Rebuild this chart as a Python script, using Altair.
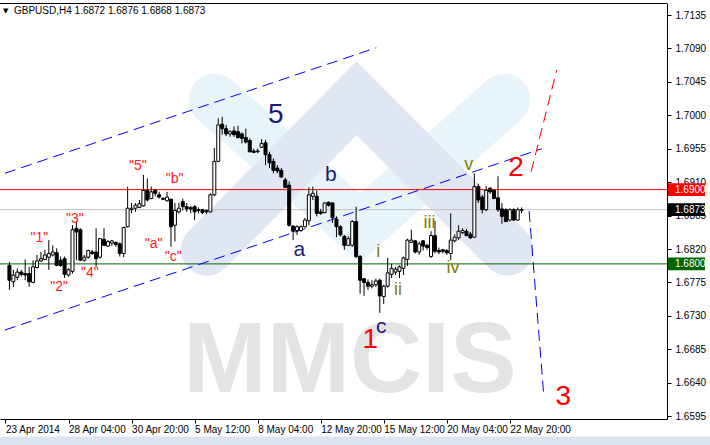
import altair as alt
import pandas as pd

# GBPUSD H4 bars (weekend gaps removed), oldest first
bar_open = [1.6798, 1.6776, 1.6782, 1.6789, 1.6787, 1.6787, 1.6775, 1.6795, 1.6804, 1.6806,
            1.6809, 1.6812, 1.6815, 1.6805, 1.6807, 1.6785, 1.6790, 1.6848, 1.6846, 1.6805,
            1.6809, 1.6816, 1.6816, 1.6809, 1.6833, 1.6824, 1.6828, 1.6829, 1.6827, 1.6814,
            1.6850, 1.6873, 1.6875, 1.6876, 1.6878, 1.6899, 1.6888, 1.6899, 1.6893, 1.6888,
            1.6885, 1.6887, 1.6852, 1.6870, 1.6884, 1.6877, 1.6876, 1.6877, 1.6873, 1.6873,
            1.6872, 1.6870, 1.6893, 1.6938, 1.6988, 1.6982, 1.6975, 1.6979, 1.6978, 1.6975,
            1.6970, 1.6966, 1.6952, 1.6951, 1.6957, 1.6963, 1.6947, 1.6938, 1.6929, 1.6926,
            1.6913, 1.6906, 1.6851, 1.6845, 1.6845, 1.6850, 1.6858, 1.6891, 1.6891, 1.6870,
            1.6869, 1.6883, 1.6882, 1.6860, 1.6850, 1.6837, 1.6825, 1.6825, 1.6857, 1.6810,
            1.6780, 1.6775, 1.6770, 1.6772, 1.6778, 1.6756, 1.6770, 1.6786, 1.6789, 1.6790,
            1.6794, 1.6806, 1.6829, 1.6831, 1.6816, 1.6831, 1.6825, 1.6810, 1.6838, 1.6818,
            1.6819, 1.6818, 1.6814, 1.6831, 1.6835, 1.6842, 1.6844, 1.6840, 1.6836, 1.6904,
            1.6890, 1.6873, 1.6902, 1.6899, 1.6889, 1.6874, 1.6873, 1.6859, 1.6873, 1.6859,
            1.6872]
bar_high = [1.6803, 1.6792, 1.6794, 1.6792, 1.6806, 1.6796, 1.6805, 1.6812, 1.6816, 1.6819,
            1.6832, 1.6825, 1.6821, 1.6810, 1.6810, 1.6794, 1.6852, 1.6857, 1.6848, 1.6812,
            1.6819, 1.6819, 1.6848, 1.6835, 1.6848, 1.6832, 1.6832, 1.6830, 1.6829, 1.6850,
            1.6904, 1.6882, 1.6882, 1.6886, 1.6920, 1.6915, 1.6904, 1.6900, 1.6897, 1.6890,
            1.6897, 1.6888, 1.6882, 1.6882, 1.6888, 1.6882, 1.6878, 1.6879, 1.6876, 1.6874,
            1.6873, 1.6895, 1.6956, 1.6996, 1.6998, 1.6987, 1.6980, 1.6985, 1.6986, 1.6977,
            1.6982, 1.6969, 1.6955, 1.6955, 1.6968, 1.6967, 1.6951, 1.6942, 1.6933, 1.6929,
            1.6916, 1.6911, 1.6852, 1.6852, 1.6852, 1.6862, 1.6903, 1.6904, 1.6899, 1.6874,
            1.6883, 1.6884, 1.6883, 1.6864, 1.6852, 1.6839, 1.6837, 1.6859, 1.6877, 1.6812,
            1.6781, 1.6779, 1.6778, 1.6780, 1.6780, 1.6772, 1.6808, 1.6800, 1.6796, 1.6798,
            1.6810, 1.6834, 1.6846, 1.6832, 1.6830, 1.6832, 1.6827, 1.6844, 1.6858, 1.6822,
            1.6820, 1.6820, 1.6868, 1.6840, 1.6852, 1.6848, 1.6847, 1.6843, 1.6922, 1.6908,
            1.6893, 1.6905, 1.6903, 1.6899, 1.6918, 1.6882, 1.6875, 1.6875, 1.6875, 1.6876,
            1.6876]
bar_low = [1.6765, 1.6769, 1.6778, 1.6783, 1.6778, 1.6769, 1.6774, 1.6794, 1.6803, 1.6805,
           1.6792, 1.6810, 1.6797, 1.6796, 1.6781, 1.6783, 1.6787, 1.6805, 1.6804, 1.6803,
           1.6807, 1.6812, 1.6796, 1.6807, 1.6824, 1.6823, 1.6824, 1.6823, 1.6810, 1.6809,
           1.6849, 1.6868, 1.6870, 1.6875, 1.6877, 1.6884, 1.6887, 1.6891, 1.6888, 1.6886,
           1.6884, 1.6823, 1.6830, 1.6868, 1.6872, 1.6870, 1.6868, 1.6859, 1.6868, 1.6867,
           1.6867, 1.6869, 1.6891, 1.6937, 1.6974, 1.6972, 1.6971, 1.6971, 1.6969, 1.6962,
           1.6962, 1.6950, 1.6949, 1.6949, 1.6956, 1.6933, 1.6929, 1.6922, 1.6922, 1.6916,
           1.6902, 1.6850, 1.6832, 1.6839, 1.6843, 1.6849, 1.6852, 1.6886, 1.6864, 1.6866,
           1.6868, 1.6877, 1.6855, 1.6836, 1.6837, 1.6819, 1.6824, 1.6823, 1.6808, 1.6760,
           1.6757, 1.6765, 1.6767, 1.6769, 1.6734, 1.6746, 1.6768, 1.6781, 1.6785, 1.6781,
           1.6785, 1.6797, 1.6828, 1.6814, 1.6812, 1.6818, 1.6819, 1.6808, 1.6814, 1.6813,
           1.6814, 1.6812, 1.6805, 1.6829, 1.6832, 1.6840, 1.6838, 1.6834, 1.6835, 1.6882,
           1.6868, 1.6871, 1.6894, 1.6887, 1.6870, 1.6854, 1.6857, 1.6857, 1.6858, 1.6858,
           1.6868]
bar_close = [1.6778, 1.6785, 1.6789, 1.6786, 1.6785, 1.6776, 1.6796, 1.6804, 1.6807, 1.6812,
             1.6814, 1.6816, 1.6798, 1.6798, 1.6786, 1.6792, 1.6846, 1.6843, 1.6805, 1.6809,
             1.6818, 1.6814, 1.6807, 1.6834, 1.6825, 1.6830, 1.6831, 1.6826, 1.6814, 1.6849,
             1.6875, 1.6875, 1.6879, 1.6881, 1.6899, 1.6886, 1.6897, 1.6895, 1.6890, 1.6887,
             1.6890, 1.6850, 1.6872, 1.6875, 1.6877, 1.6874, 1.6874, 1.6870, 1.6872, 1.6869,
             1.6870, 1.6893, 1.6938, 1.6987, 1.6982, 1.6975, 1.6978, 1.6974, 1.6970, 1.6969,
             1.6964, 1.6951, 1.6950, 1.6952, 1.6962, 1.6947, 1.6936, 1.6926, 1.6925, 1.6917,
             1.6903, 1.6852, 1.6844, 1.6850, 1.6850, 1.6859, 1.6893, 1.6895, 1.6868, 1.6868,
             1.6882, 1.6879, 1.6862, 1.6850, 1.6839, 1.6825, 1.6834, 1.6857, 1.6810, 1.6778,
             1.6775, 1.6770, 1.6772, 1.6777, 1.6757, 1.6770, 1.6788, 1.6794, 1.6793, 1.6796,
             1.6808, 1.6832, 1.6832, 1.6816, 1.6827, 1.6824, 1.6822, 1.6838, 1.6817, 1.6816,
             1.6817, 1.6815, 1.6832, 1.6836, 1.6844, 1.6845, 1.6838, 1.6835, 1.6904, 1.6886,
             1.6873, 1.6899, 1.6897, 1.6888, 1.6873, 1.6864, 1.6857, 1.6873, 1.6859, 1.6873,
             1.6873]

# price axis ticks and time axis labels (bar index -> label)
price_ticks = [1.6595, 1.6640, 1.6685, 1.6730, 1.6775, 1.6820, 1.6865,
               1.6910, 1.6955, 1.7000, 1.7045, 1.7090, 1.7135]
time_tick_bars = [-1, 15, 31, 47, 63, 79, 95, 111, 127]
time_tick_labels = ["23 Apr 2014", "28 Apr 04:00", "30 Apr 20:00", "5 May 12:00",
                    "8 May 04:00", "12 May 20:00", "15 May 12:00", "20 May 04:00",
                    "22 May 20:00"]

# horizontal levels: resistance, current bid, support
level_prices = [1.6900, 1.6873, 1.6800]
level_names = ["resistance", "bid", "support"]

# trend-channel and projection lines (bar index, price) end points
channel_upper_bars = [-1.125, 93.1]
channel_upper_prices = [1.6922, 1.7091]
channel_lower_bars = [-1.125, 135.1]
channel_lower_prices = [1.6711, 1.6955]
wave2_bars = [132.4, 138.9]
wave2_prices = [1.6924, 1.7061]
wave3_bars = [131.9, 135.6]
wave3_prices = [1.6871, 1.6624]

# Elliott wave annotations
wave_text = ["5", "a", "b", "c", "1", "2", "3", "i", "ii", "iii", "iv", "v",
             '"1"', '"2"', '"3"', '"4"', '"5"', '"a"', '"b"', '"c"']
wave_bar = [67.6, 73.6, 81.6, 94.4, 91.6, 128.6, 140.6, 93.6, 98.6, 106.6, 112.6, 116.6,
            7.6, 12.6, 16.6, 20.4, 32.6, 36.6, 41.9, 41.6]
wave_price = [1.7000, 1.6819, 1.6920, 1.6715, 1.6698, 1.6929, 1.6621, 1.6816, 1.6765,
              1.6855, 1.6794, 1.6933, 1.6835, 1.6769, 1.6860, 1.6788, 1.6932, 1.6827,
              1.6914, 1.6809]
wave_degree = ["primary", "minor", "minor", "minor", "major", "major", "major",
               "minute", "minute", "minute", "minute", "minute",
               "sub", "sub", "sub", "sub", "sub", "sub", "sub", "sub"]

# ---------------- styling ----------------
FONT = "Liberation Sans"
degree_style = {
    "primary": ("#1a1a80", 28),
    "major": ("#ff0000", 28),
    "minor": ("#1a1a80", 21),
    "minute": ("#808000", 18),
    "sub": ("#ff2020", 14),
}
level_style = {
    "resistance": ("#ff0000", "#ff0000"),
    "bid": ("#c0c0c0", "#000000"),
    "support": ("#006400", "#006400"),
}

X_DOMAIN = [-1.125, 165.625]
Y_DOMAIN = [1.65912, 1.71512]
xs = alt.Scale(domain=X_DOMAIN, nice=False, zero=False)
ys = alt.Scale(domain=Y_DOMAIN, nice=False, zero=False)

label_expr = " : ".join(
    f"datum.value == {b} ? '{t}'" for b, t in zip(time_tick_bars, time_tick_labels)
) + " : ''"

x_axis = alt.Axis(values=time_tick_bars, labelExpr=label_expr, title=None, grid=False,
                  tickSize=4, tickColor="black", domainColor="black", labelAlign="left",
                  labelBaseline="top", labelPadding=1, labelFont=FONT, labelFontSize=10,
                  labelColor="black", labelFlush=False, labelOverlap=False, labelBound=False)
y_axis = alt.Axis(values=price_ticks, format=".4f", orient="right", title=None, grid=False,
                  tickSize=4, tickColor="black", domainColor="black", labelPadding=4,
                  labelFont=FONT, labelFontSize=10, labelColor="black", labelFlush=False,
                  labelOverlap=False, labelBaseline="middle")


def X(field="bar"):
    return alt.X(f"{field}:Q", scale=xs, axis=x_axis)


def Y(field="price"):
    return alt.Y(f"{field}:Q", scale=ys, axis=y_axis)


bars = pd.DataFrame({"bar": range(len(bar_open)), "open": bar_open, "high": bar_high,
                     "low": bar_low, "close": bar_close})
bars["fill"] = ["white" if c >= o else "black" for o, c in zip(bar_open, bar_close)]

# watermark logo: a "V" and a "^" chevron (centre lines in bar index / price) and lettering
logo_v = pd.DataFrame({"bar": [52.1, 88.9, 125.6], "price": [1.7021, 1.6848, 1.7021], "k": [0, 1, 2]})
logo_a = pd.DataFrame({"bar": [50.1, 88.1, 126.4], "price": [1.6819, 1.7023, 1.6819], "k": [0, 1, 2]})

logo_v_layer = alt.Chart(logo_v).mark_line(
    strokeWidth=52, strokeCap="round", strokeJoin="miter", color="#e7f4fa", clip=True
).encode(x=X(), y=Y(), order="k:Q")
logo_a_layer = alt.Chart(logo_a).mark_line(
    strokeWidth=52, strokeCap="round", strokeJoin="miter", color="#e0e6f4", clip=True
).encode(x=X(), y=Y(), order="k:Q")
logo_text = alt.Chart(pd.DataFrame({"t": ["MMCIS"]})).mark_text(
    font=FONT, fontWeight="bold", fontSize=100, color="#e4e4e4",
    align="center", baseline="alphabetic"
).encode(x=alt.value(350), y=alt.value(389), text="t:N")

levels = pd.DataFrame({"price": level_prices, "name": level_names})
levels["line"] = [level_style[n][0] for n in level_names]
levels["box"] = [level_style[n][1] for n in level_names]
levels["label"] = [f"{p:.4f}" for p in level_prices]

level_rules = alt.Chart(levels).mark_rule(strokeWidth=1).encode(
    x=alt.value(0), x2=alt.value(667), y=Y(),
    color=alt.Color("line:N", scale=None))


def dashed(bx, py, color):
    d = pd.DataFrame({"bar": bx, "price": py, "k": range(len(bx))})
    return alt.Chart(d).mark_line(color=color, strokeWidth=1, strokeDash=[11, 6], clip=True).encode(
        x=X(), y=Y(), order="k:Q")


ch_up = dashed(channel_upper_bars, channel_upper_prices, "#0000ff")
ch_lo = dashed(channel_lower_bars, channel_lower_prices, "#0000ff")
w2 = dashed(wave2_bars, wave2_prices, "#ff0000")
w3 = dashed(wave3_bars, wave3_prices, "#0000ff")

wicks = alt.Chart(bars).mark_rule(color="black", strokeWidth=1).encode(
    x=X(), y=Y("low"), y2="high:Q")
bodies = alt.Chart(bars).mark_bar(width=3, stroke="black", strokeWidth=1).encode(
    x=X(), y=Y("open"), y2="close:Q", fill=alt.Fill("fill:N", scale=None))

waves = pd.DataFrame({"text": wave_text, "bar": wave_bar, "price": wave_price,
                      "degree": wave_degree})
waves["color"] = [degree_style[d][0] for d in wave_degree]
waves["size"] = [degree_style[d][1] for d in wave_degree]
wave_layer = alt.Chart(waves).mark_text(font=FONT, align="center", baseline="middle").encode(
    x=X(), y=Y(), text="text:N",
    color=alt.Color("color:N", scale=None), size=alt.Size("size:Q", scale=None))

box_layer = alt.Chart(levels).transform_calculate(
    lo="datum.price - 0.00085", hi="datum.price + 0.00085"
).mark_rect().encode(
    x=alt.value(668), x2=alt.value(705), y=Y("lo"), y2="hi:Q",
    fill=alt.Fill("box:N", scale=None))
box_text = alt.Chart(levels).mark_text(font=FONT, fontSize=10, color="white", align="left",
                                       baseline="middle").encode(
    x=alt.value(675), y=Y(), text="label:N")

top_border = alt.Chart(pd.DataFrame({"edge": ["top"]})).mark_rule(color="black", strokeWidth=1).encode(
    x=alt.value(0), x2=alt.value(667), y=alt.value(0.5))

title_str = f"GBPUSD,H4  {bar_open[-1]:.4f} {bar_high[-1]:.4f} {bar_low[-1]:.4f} {bar_close[-1]:.4f}"
title_layer = alt.Chart(pd.DataFrame({"t": [title_str]})).mark_text(
    font=FONT, fontSize=10, color="black", align="left", baseline="middle"
).encode(x=alt.value(14), y=alt.value(8), text="t:N")
title_arrow = alt.Chart(pd.DataFrame({"t": ["\u25bc"]})).mark_text(
    font="DejaVu Sans", fontSize=7, color="black", align="left", baseline="middle"
).encode(x=alt.value(3), y=alt.value(8), text="t:N")

# window frame strip below the time axis, placed through the price scale
bottom_strip = alt.Chart(pd.DataFrame({"edge": ["bottom"]})).mark_rule(
    color="#dbe4f0", strokeWidth=9
).encode(x=alt.value(0), x2=alt.value(710),
         y=alt.Y("level:Q", scale=ys, axis=y_axis)).transform_calculate(level="1.65616")

chart = alt.layer(
    logo_v_layer, logo_a_layer, logo_text,
    level_rules, ch_up, ch_lo, w2, w3,
    wicks, bodies, wave_layer,
    box_layer, box_text, top_border, title_arrow, title_layer, bottom_strip,
).properties(
    width=667, height=416,
    padding={"left": 0, "top": 3, "right": 43, "bottom": 26},
    autosize=alt.AutoSizeParams(type="none"),
    background="white",
).configure_view(stroke=None)

chart.save("out.html", embed_options={"renderer": "svg", "actions": False})
